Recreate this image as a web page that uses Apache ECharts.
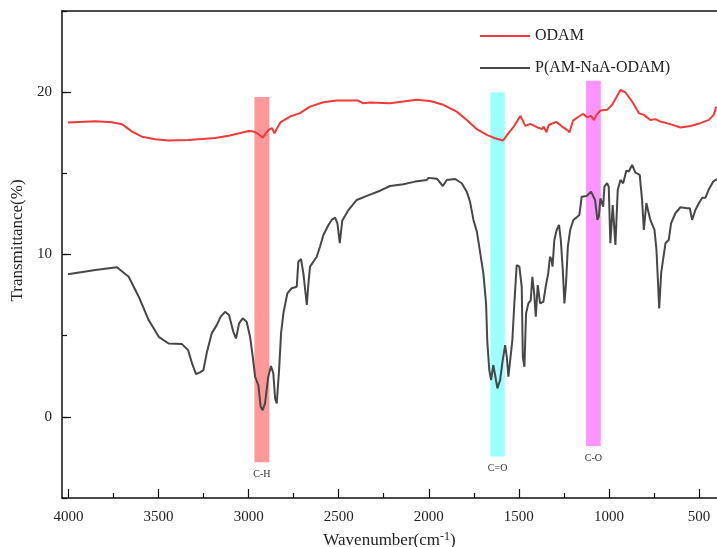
<!DOCTYPE html>
<html>
<head>
<meta charset="utf-8">
<script src="https://cdn.jsdelivr.net/npm/echarts@6/dist/echarts.min.js"></script>
<style>
  html, body { margin: 0; padding: 0; background: #fff; }
  #chart { width: 717px; height: 547px; }
</style>
</head>
<body>
<div id="chart"></div>
<script>
  // ODAM spectrum (wavenumber, transmittance)
  var odamWavenumber = [4003, 3851, 3758, 3703, 3647, 3592, 3518, 3444, 3333, 3185, 3110, 2999, 2972, 2944, 2922, 2903, 2888, 2870, 2857, 2842, 2822, 2770, 2715, 2659, 2585, 2511, 2391, 2366, 2326, 2215, 2141, 2067, 1993, 1919, 1845, 1789, 1733, 1678, 1632, 1621, 1587, 1565, 1528, 1491, 1464, 1436, 1399, 1371, 1362, 1347, 1334, 1292, 1260, 1232, 1219, 1199, 1167, 1143, 1121, 1099, 1084, 1069, 1047, 1010, 982, 936, 908, 871, 834, 806, 770, 742, 714, 659, 603, 547, 492, 445, 418, 404];
  var odamT = [18.13, 18.21, 18.15, 18.03, 17.57, 17.26, 17.10, 17.02, 17.06, 17.18, 17.32, 17.61, 17.57, 17.41, 17.20, 17.47, 17.68, 17.78, 17.47, 17.78, 18.16, 18.50, 18.71, 19.11, 19.38, 19.48, 19.48, 19.32, 19.36, 19.32, 19.42, 19.53, 19.46, 19.22, 18.80, 18.29, 17.72, 17.37, 17.16, 17.06, 17.02, 17.37, 17.88, 18.54, 17.92, 18.05, 17.84, 17.72, 17.88, 17.53, 17.98, 18.17, 17.88, 17.68, 17.53, 18.25, 18.50, 18.66, 18.46, 18.54, 18.29, 18.60, 18.87, 18.91, 19.22, 20.14, 19.98, 19.42, 18.71, 18.60, 18.29, 18.34, 18.19, 18.03, 17.82, 17.92, 18.09, 18.29, 18.60, 19.11];

  // P(AM-NaA-ODAM) spectrum
  var polyWavenumber = [4003, 3851, 3731, 3666, 3610, 3555, 3499, 3444, 3370, 3336, 3314, 3292, 3268, 3251, 3233, 3205, 3177, 3155, 3131, 3109, 3085, 3070, 3053, 3033, 3011, 2992, 2977, 2964, 2946, 2933, 2922, 2909, 2891, 2876, 2863, 2853, 2844, 2831, 2820, 2807, 2785, 2761, 2733, 2724, 2709, 2696, 2677, 2668, 2659, 2622, 2604, 2585, 2557, 2539, 2520, 2507, 2494, 2480, 2446, 2400, 2344, 2270, 2215, 2141, 2076, 2011, 2002, 1955, 1922, 1900, 1854, 1817, 1789, 1771, 1752, 1733, 1717, 1697, 1682, 1675, 1664, 1654, 1642, 1630, 1619, 1604, 1591, 1576, 1567, 1558, 1549, 1536, 1525, 1512, 1497, 1484, 1478, 1469, 1460, 1447, 1434, 1425, 1415, 1406, 1395, 1382, 1364, 1351, 1337, 1327, 1318, 1313, 1303, 1290, 1277, 1267, 1256, 1247, 1238, 1228, 1215, 1197, 1164, 1151, 1123, 1099, 1077, 1064, 1056, 1047, 1032, 1025, 1010, 1001, 992, 979, 964, 951, 936, 921, 903, 890, 871, 853, 829, 816, 806, 792, 770, 747, 736, 729, 721, 710, 701, 686, 668, 655, 631, 603, 566, 551, 538, 520, 501, 482, 464, 445, 421, 400];
  var polyT = [8.78, 9.04, 9.21, 8.63, 7.40, 5.96, 4.93, 4.52, 4.48, 4.11, 3.29, 2.63, 2.75, 2.88, 3.91, 5.14, 5.65, 6.17, 6.47, 6.27, 5.24, 4.83, 5.76, 6.07, 5.86, 4.93, 3.70, 2.47, 1.95, 0.62, 0.41, 0.83, 2.47, 3.13, 2.68, 1.13, 0.83, 2.88, 5.14, 6.37, 7.61, 7.92, 8.01, 9.56, 9.72, 8.84, 6.89, 8.22, 9.25, 9.86, 10.48, 11.20, 11.82, 12.13, 12.27, 11.92, 10.70, 12.10, 12.74, 13.36, 13.61, 13.93, 14.22, 14.33, 14.49, 14.59, 14.72, 14.67, 14.22, 14.59, 14.65, 14.39, 13.87, 13.26, 12.13, 11.41, 10.28, 8.84, 6.99, 4.62, 2.88, 2.26, 3.19, 2.47, 1.75, 2.26, 3.39, 4.42, 3.70, 2.47, 2.43, 4.73, 6.99, 9.35, 9.25, 8.01, 3.70, 3.08, 6.37, 6.99, 7.19, 8.63, 7.61, 6.17, 8.12, 6.99, 7.09, 8.01, 8.84, 9.86, 9.66, 9.25, 10.89, 11.51, 11.82, 10.89, 9.04, 6.99, 8.22, 10.48, 11.51, 12.13, 12.44, 13.56, 13.61, 13.87, 13.36, 12.13, 12.33, 13.46, 12.95, 14.18, 14.39, 14.18, 10.69, 13.05, 10.59, 13.98, 14.59, 14.39, 15.17, 15.11, 15.52, 15.04, 14.90, 13.36, 11.51, 13.16, 12.13, 11.51, 10.28, 8.63, 6.68, 8.84, 9.56, 10.69, 10.89, 11.92, 12.54, 12.91, 12.85, 12.85, 12.13, 12.74, 13.16, 13.50, 13.50, 14.02, 14.49, 14.64];

  // highlighted bands: label, wavenumber from/to, transmittance top/bottom
  var bandNames = ['C-H', 'C=O', 'C-O'];
  var bandFrom = [2968, 1658, 1127];
  var bandTo = [2885, 1578, 1045];
  var bandTop = [19.7, 20.0, 20.7];
  var bandBottom = [-2.8, -2.45, -1.8];
  var bandColors = ['rgba(255,0,0,0.4)', 'rgba(0,255,255,0.38)', 'rgba(255,0,255,0.42)'];

  var xMajor = [500, 1000, 1500, 2000, 2500, 3000, 3500, 4000];
  var xMinor = [750, 1250, 1750, 2250, 2750, 3250, 3750];
  var yMajor = [0, 10, 20];

  var serif = 'Liberation Serif';
  var axisColor = '#111';

  function pairs (xs, ys) {
    return xs.map(function (x, i) { return [x, ys[i]]; });
  }

  var bandData = bandNames.map(function (name, i) {
    return [
      {
        name: name,
        xAxis: bandFrom[i],
        yAxis: bandTop[i],
        itemStyle: { color: bandColors[i] }
      },
      { xAxis: bandTo[i], yAxis: bandBottom[i] }
    ];
  });

  var xBase = { type: 'value', min: 400, max: 4036, inverse: true, splitLine: { show: false } };
  var yBase = { type: 'value', min: -5, max: 25, splitLine: { show: false } };
  var plain = function (v) { return String(v); };

  var chart = echarts.init(document.getElementById('chart'));
  chart.setOption({
    animation: false,
    backgroundColor: '#fff',
    grid: { left: 62, right: 0, top: 11, bottom: 49, containLabel: false, outerBoundsMode: 'none' },
    legend: {
      data: ['ODAM', 'P(AM-NaA-ODAM)'],
      orient: 'vertical',
      left: 480,
      top: 27,
      padding: 0,
      icon: 'rect',
      itemWidth: 50,
      itemHeight: 2,
      itemGap: 14,
      textStyle: { fontFamily: serif, fontSize: 16, color: '#222', lineHeight: 18, padding: [0, 0, 0, 0] }
    },
    xAxis: [
      Object.assign({}, xBase, {
        position: 'bottom',
        name: 'Wavenumber(cm{sup|-1})',
        nameLocation: 'middle',
        nameGap: 33,
        nameTextStyle: {
          fontFamily: serif, fontSize: 17, color: '#222',
          rich: { sup: { fontFamily: serif, fontSize: 12, color: '#222', verticalAlign: 'top', padding: [0, 0, 8, 0] } }
        },
        axisLine: { show: true, onZero: false, lineStyle: { color: axisColor, width: 1.5 } },
        axisTick: { show: true, inside: true, length: 9, customValues: xMajor, lineStyle: { color: axisColor, width: 1.2 } },
        axisLabel: { customValues: xMajor, formatter: plain, fontFamily: serif, fontSize: 15, color: '#222', margin: 12 }
      }),
      Object.assign({}, xBase, {
        position: 'bottom',
        axisLine: { show: false, onZero: false },
        axisTick: { show: true, inside: true, length: 5, customValues: xMinor, lineStyle: { color: axisColor, width: 1.2 } },
        axisLabel: { show: false }
      }),
      Object.assign({}, xBase, {
        position: 'top',
        axisLine: { show: true, onZero: false, lineStyle: { color: axisColor, width: 1.5 } },
        axisTick: { show: false },
        axisLabel: { show: false }
      })
    ],
    yAxis: [
      Object.assign({}, yBase, {
        position: 'left',
        name: 'Transmittance(%)',
        nameLocation: 'middle',
        nameGap: 34,
        nameTextStyle: { fontFamily: serif, fontSize: 17, color: '#222', padding: [0, 0, 0, 28] },
        axisLine: { show: true, onZero: false, lineStyle: { color: axisColor, width: 1.5 } },
        axisTick: { show: true, inside: true, length: 9, customValues: yMajor, lineStyle: { color: axisColor, width: 1.2 } },
        axisLabel: { customValues: yMajor, formatter: plain, fontFamily: serif, fontSize: 15, color: '#222', margin: 10 }
      }),
      Object.assign({}, yBase, {
        position: 'left',
        interval: 5,
        axisLine: { show: false, onZero: false },
        axisTick: { show: true, inside: true, length: 5, lineStyle: { color: axisColor, width: 1.2 } },
        axisLabel: { show: false }
      })
    ],
    series: [
      {
        name: 'ODAM',
        type: 'line',
        data: pairs(odamWavenumber, odamT),
        showSymbol: false,
        symbol: 'none',
        z: 2,
        itemStyle: { color: '#f03a3a' },
        lineStyle: { color: '#f03a3a', width: 2 }
      },
      {
        name: 'P(AM-NaA-ODAM)',
        type: 'line',
        data: pairs(polyWavenumber, polyT),
        showSymbol: false,
        symbol: 'none',
        z: 2,
        itemStyle: { color: '#474747' },
        lineStyle: { color: '#474747', width: 2 }
      },
      {
        // bands sit above the lines, as in the original
        name: 'bands',
        type: 'line',
        data: [],
        z: 5,
        silent: true,
        markArea: {
          silent: true,
          label: {
            show: true,
            position: 'bottom',
            distance: 7,
            fontFamily: serif,
            fontSize: 10,
            color: '#333'
          },
          data: bandData
        }
      }
    ]
  });
</script>
</body>
</html>
